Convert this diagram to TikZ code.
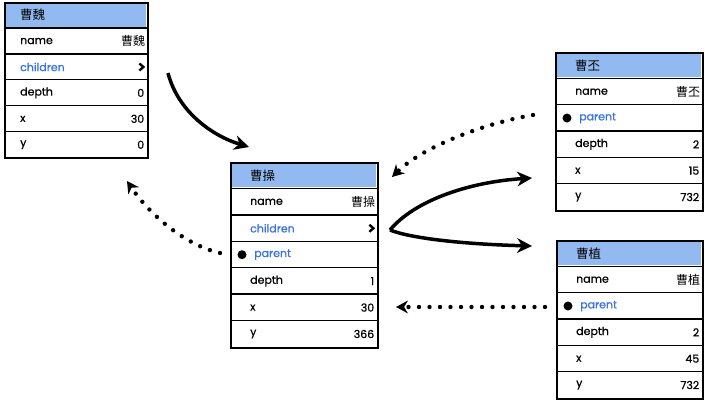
\documentclass[tikz,border=0pt]{standalone}
\usepackage{fontspec}
\setmainfont{Poppins}[FakeBold=0.7]
\newfontfamily\cjk{Noto Sans CJK TC}
\usetikzlibrary{arrows.meta,calc}
\definecolor{hdr}{HTML}{93BAF0}
\definecolor{lnk}{HTML}{3A74E4}
\tikzset{
 boxframe/.style={draw=black,line width=1.9pt,inner sep=0pt,anchor=north west},
 rowcell/.style={inner sep=0pt,anchor=north west},
 sepline/.style={line width=1.5pt},
 lbl/.style={anchor=west,font=\fontsize{11}{13}\selectfont,inner sep=0pt},
 val/.style={anchor=east,font=\fontsize{11}{13}\selectfont,inner sep=0pt},
 bluelbl/.style={lbl,text=lnk},
 cjkhdr/.style={anchor=west,font=\cjk\fontsize{12.5}{14}\selectfont,inner sep=0pt},
 cjkval/.style={anchor=east,font=\cjk\fontsize{12}{14}\selectfont,inner sep=0pt},
 chev/.style={line width=2.4pt},
 bulletdot/.style={circle,fill=black,inner sep=0pt,minimum size=9pt},
 solidarrow/.style={line width=3.5pt,-{Stealth[length=15pt,width=15pt,line width=0pt]}},
 dotarrow/.style={line width=4.4pt,line cap=round,dash pattern=on 0pt off 10.5pt,-{Stealth[length=12pt,width=13pt,line width=0pt]}},
}
% #1 name, #2 left, #3 top, #4 right, #5 bottom, #6 rows
\newcommand\mytable[6]{%
  \pgfmathsetmacro\rh{(#5-#3)/#6}%
  \pgfmathsetmacro\bw{#4-#2}%
  \pgfmathsetmacro\bh{#5-#3}%
  \fill[hdr] (#2+1.5,#3+1.5) rectangle (#4-1.5,#3+\rh-1);
  \foreach \i in {1,...,#6} {
    \node[rowcell,minimum width=\bw pt,minimum height=\rh pt] (#1-r\i) at (#2,{#3+(\i-1)*\rh}) {};
  }
  \foreach \i in {2,...,#6} {
    \draw[sepline] (#1-r\i.north west) -- (#1-r\i.north east);
  }
  \node[boxframe,minimum width=\bw pt,minimum height=\bh pt] (#1) at (#2,#3) {};
}
\begin{document}
\begin{tikzpicture}[x=1pt,y=-1pt]
\useasboundingbox (0,0) rectangle (705,401);
\fill[white] (0,0) rectangle (705,401);

% Box 1
\mytable{b1}{4}{2}{147}{157.5}{6}
\node[cjkhdr,xshift=16pt] (b1h) at (b1-r1.west) {曹魏};
\node[lbl,xshift=16pt] (b1n) at (b1-r2.west) {name};
\node[cjkval,xshift=-2pt] (b1nv) at (b1-r2.east) {曹魏};
\node[bluelbl,xshift=16pt] (b1c) at (b1-r3.west) {children};
\draw[chev] ([xshift=-8pt,yshift=3.5pt]b1-r3.east) -- ([xshift=-4pt]b1-r3.east) -- ([xshift=-8pt,yshift=-3.5pt]b1-r3.east);
\node[lbl,xshift=16pt] (b1d) at (b1-r4.west) {depth};
\node[val,xshift=-3pt] (b1dv) at (b1-r4.east) {0};
\node[lbl,xshift=16pt] (b1x) at (b1-r5.west) {x};
\node[val,xshift=-3pt] (b1xv) at (b1-r5.east) {30};
\node[lbl,xshift=16pt] (b1y) at (b1-r6.west) {y};
\node[val,xshift=-3pt] (b1yv) at (b1-r6.east) {0};

% Box 2
\mytable{b2}{230}{162}{377}{347}{7}
\node[cjkhdr,xshift=20pt] (b2h) at (b2-r1.west) {曹操};
\node[lbl,xshift=20pt] (b2n) at (b2-r2.west) {name};
\node[cjkval,xshift=-2pt] (b2nv) at (b2-r2.east) {曹操};
\node[bluelbl,xshift=20pt] (b2c) at (b2-r3.west) {children};
\draw[chev] ([xshift=-8pt,yshift=3.5pt]b2-r3.east) -- ([xshift=-4pt]b2-r3.east) -- ([xshift=-8pt,yshift=-3.5pt]b2-r3.east);
\node[bulletdot,xshift=12pt] (b2b) at (b2-r4.west) {};
\node[bluelbl,xshift=24pt] (b2p) at (b2-r4.west) {parent};
\node[lbl,xshift=20pt] (b2d) at (b2-r5.west) {depth};
\node[val,xshift=-3pt] (b2dv) at (b2-r5.east) {1};
\node[lbl,xshift=20pt] (b2x) at (b2-r6.west) {x};
\node[val,xshift=-3pt] (b2xv) at (b2-r6.east) {30};
\node[lbl,xshift=20pt] (b2y) at (b2-r7.west) {y};
\node[val,xshift=-3pt] (b2yv) at (b2-r7.east) {366};

% Box 3
\mytable{b3}{555}{52}{702}{210}{6}
\node[cjkhdr,xshift=20pt] (b3h) at (b3-r1.west) {曹丕};
\node[lbl,xshift=20pt] (b3n) at (b3-r2.west) {name};
\node[cjkval,xshift=-2pt] (b3nv) at (b3-r2.east) {曹丕};
\node[bulletdot,xshift=12pt] (b3b) at (b3-r3.west) {};
\node[bluelbl,xshift=24pt] (b3p) at (b3-r3.west) {parent};
\node[lbl,xshift=20pt] (b3d) at (b3-r4.west) {depth};
\node[val,xshift=-3pt] (b3dv) at (b3-r4.east) {2};
\node[lbl,xshift=20pt] (b3x) at (b3-r5.west) {x};
\node[val,xshift=-3pt] (b3xv) at (b3-r5.east) {15};
\node[lbl,xshift=20pt] (b3y) at (b3-r6.west) {y};
\node[val,xshift=-3pt] (b3yv) at (b3-r6.east) {732};

% Box 4
\mytable{b4}{556}{240}{702}{398}{6}
\node[cjkhdr,xshift=20pt] (b4h) at (b4-r1.west) {曹植};
\node[lbl,xshift=20pt] (b4n) at (b4-r2.west) {name};
\node[cjkval,xshift=-2pt] (b4nv) at (b4-r2.east) {曹植};
\node[bulletdot,xshift=12pt] (b4b) at (b4-r3.west) {};
\node[bluelbl,xshift=24pt] (b4p) at (b4-r3.west) {parent};
\node[lbl,xshift=20pt] (b4d) at (b4-r4.west) {depth};
\node[val,xshift=-3pt] (b4dv) at (b4-r4.east) {2};
\node[lbl,xshift=20pt] (b4x) at (b4-r5.west) {x};
\node[val,xshift=-3pt] (b4xv) at (b4-r5.east) {45};
\node[lbl,xshift=20pt] (b4y) at (b4-r6.west) {y};
\node[val,xshift=-3pt] (b4yv) at (b4-r6.east) {732};

% connector end points
\coordinate (c1s) at (168,73);
\coordinate (c1e) at (249,147);
\coordinate (c2s) at (220,253);
\coordinate (c2e) at (127,181);
\coordinate (c3s) at (533,115);
\coordinate (c3e) at (392,177);
\coordinate (c4s) at (390,230);
\coordinate (c4a) at (532,178);
\coordinate (c4b) at (532,246);
\coordinate (c5s) at (545,307);
\coordinate (c5e) at (396,307);

\draw[solidarrow] (c1s) .. controls (178,112) and (213,136) .. (c1e);
\draw[dotarrow] (c2s) .. controls (185,245) and (150,215) .. (c2e);
\draw[dotarrow] (c3s) .. controls (490,122) and (425,145) .. (c3e);
\draw[solidarrow] (c4s) .. controls (415,200) and (470,182) .. (c4a);
\draw[solidarrow] (c4s) .. controls (410,238) and (460,244) .. (c4b);
\draw[dotarrow] (c5s) -- (c5e);
\end{tikzpicture}
\end{document}
